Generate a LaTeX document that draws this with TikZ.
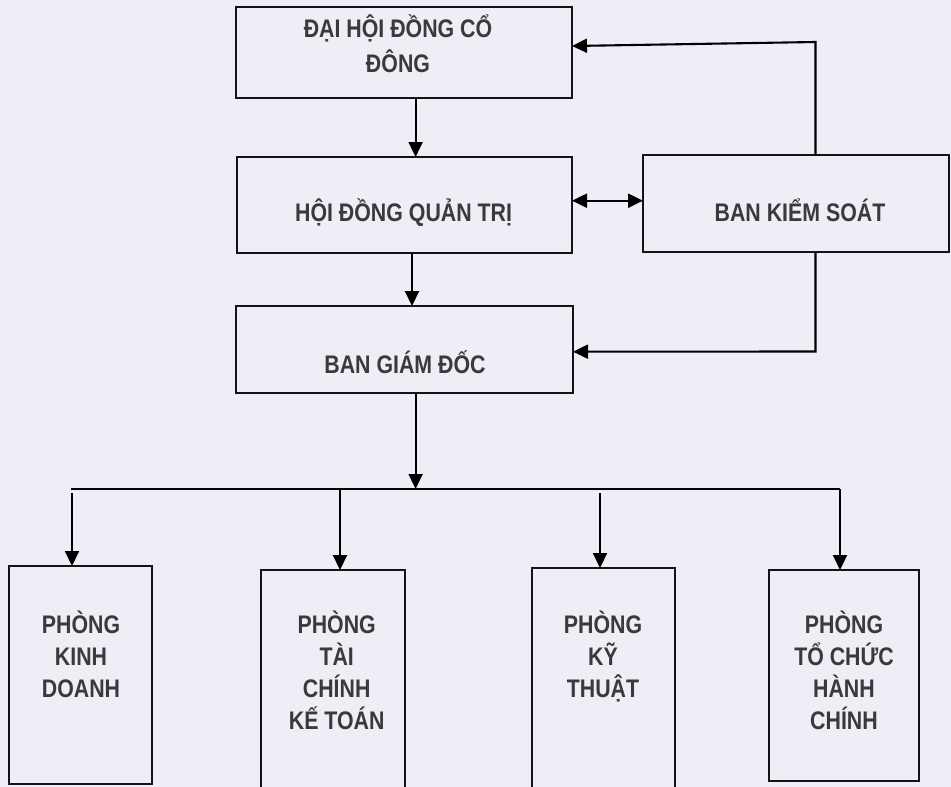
\documentclass[tikz,border=0pt]{standalone}
\usepackage{fontspec}
\setmainfont{Liberation Sans}[FakeStretch=0.84]
\usetikzlibrary{arrows.meta}
\definecolor{bgc}{HTML}{EDEEF6}
\definecolor{txtc}{HTML}{3A3A3A}
\begin{document}
\begin{tikzpicture}[x=1pt,y=-1pt,
  box/.style={draw=black!92, line width=1.9pt, inner sep=0pt, outer sep=0pt},
  lbl/.style={font=\fontsize{25.4}{32}\selectfont\bfseries, text=txtc, align=center, inner sep=0pt, anchor=base},
  conn/.style={line width=2.1pt, -{Triangle[length=15pt,width=14pt]}},
  dconn/.style={line width=2.1pt, {Triangle[length=15pt,width=14pt]}-{Triangle[length=15pt,width=14pt]}},
  plain/.style={line width=2.1pt}]
\fill[bgc] (0,0) rectangle (951,787);
\useasboundingbox (0,0) rectangle (951,787);
% boxes
\node[box, minimum width=336pt, minimum height=91pt] (dh) at (404,52.5) {};
\node[box, minimum width=335pt, minimum height=96pt] (hd) at (404.5,205) {};
\node[box, minimum width=306pt, minimum height=97pt] (bks) at (796,203.5) {};
\node[box, minimum width=337pt, minimum height=87pt] (bgd) at (404.5,349.5) {};
\node[box, minimum width=143pt, minimum height=218pt] (p1) at (80.5,675) {};
\node[box, minimum width=144pt, minimum height=224pt] (p2) at (333,682) {};
\node[box, minimum width=143pt, minimum height=226pt] (p3) at (603.5,681) {};
\node[box, minimum width=150pt, minimum height=211pt] (p4) at (844,675.5) {};
% texts (anchor base = baseline of the last line)
\node[lbl] (tdh) at (398,72.7) {ĐẠI HỘI ĐỒNG CỔ\\[3.5pt]ĐÔNG};
\node[lbl] (thd) at (403.6,221) {HỘI ĐỒNG QUẢN TRỊ};
\node[lbl] (tbks) at (800,221.7) {BAN KIỂM SOÁT};
\node[lbl] (tbgd) at (405,373) {BAN GIÁM ĐỐC};
\node[lbl] (tp1) at (81,697) {PHÒNG\\KINH\\DOANH};
\node[lbl] (tp2) at (336.7,729) {PHÒNG\\TÀI\\CHÍNH\\KẾ TOÁN};
\node[lbl] (tp3) at (603,697) {PHÒNG\\KỸ\\THUẬT};
\node[lbl] (tp4) at (844,729) {PHÒNG\\TỔ CHỨC\\HÀNH\\CHÍNH};
% coordinates
\coordinate (bkstop) at (815.5,42);
\coordinate (bksbot) at (815.5,351.5);
\coordinate (busL) at (71,489);
\coordinate (busR) at (840,489);
\coordinate (busM) at (415.6,489);
% connectors
\draw[conn] (415.6,0 |- dh.south) -- (415.6,0 |- hd.north);
\draw[dconn] (hd.east |- 0,200.7) -- (bks.west |- 0,200.7);
\draw[conn] (815.5,0 |- bks.north) -- (bkstop) -- (dh.east |- 0,46);
\draw[conn] (815.5,0 |- bks.south) -- (bksbot) -- (bgd.east |- 0,351.7);
\draw[conn] (412,0 |- hd.south) -- (412,0 |- bgd.north);
\draw[conn] (415.6,0 |- bgd.south) -- (busM);
\draw[plain] (busL) -- (busR);
\draw[conn] (72,493) -- (72,0 |- p1.north);
\draw[conn] (340,489) -- (340,0 |- p2.north);
\draw[conn] (600,493) -- (600,0 |- p3.north);
\draw[conn] (busR) -- (840,0 |- p4.north);
\end{tikzpicture}
\end{document}
